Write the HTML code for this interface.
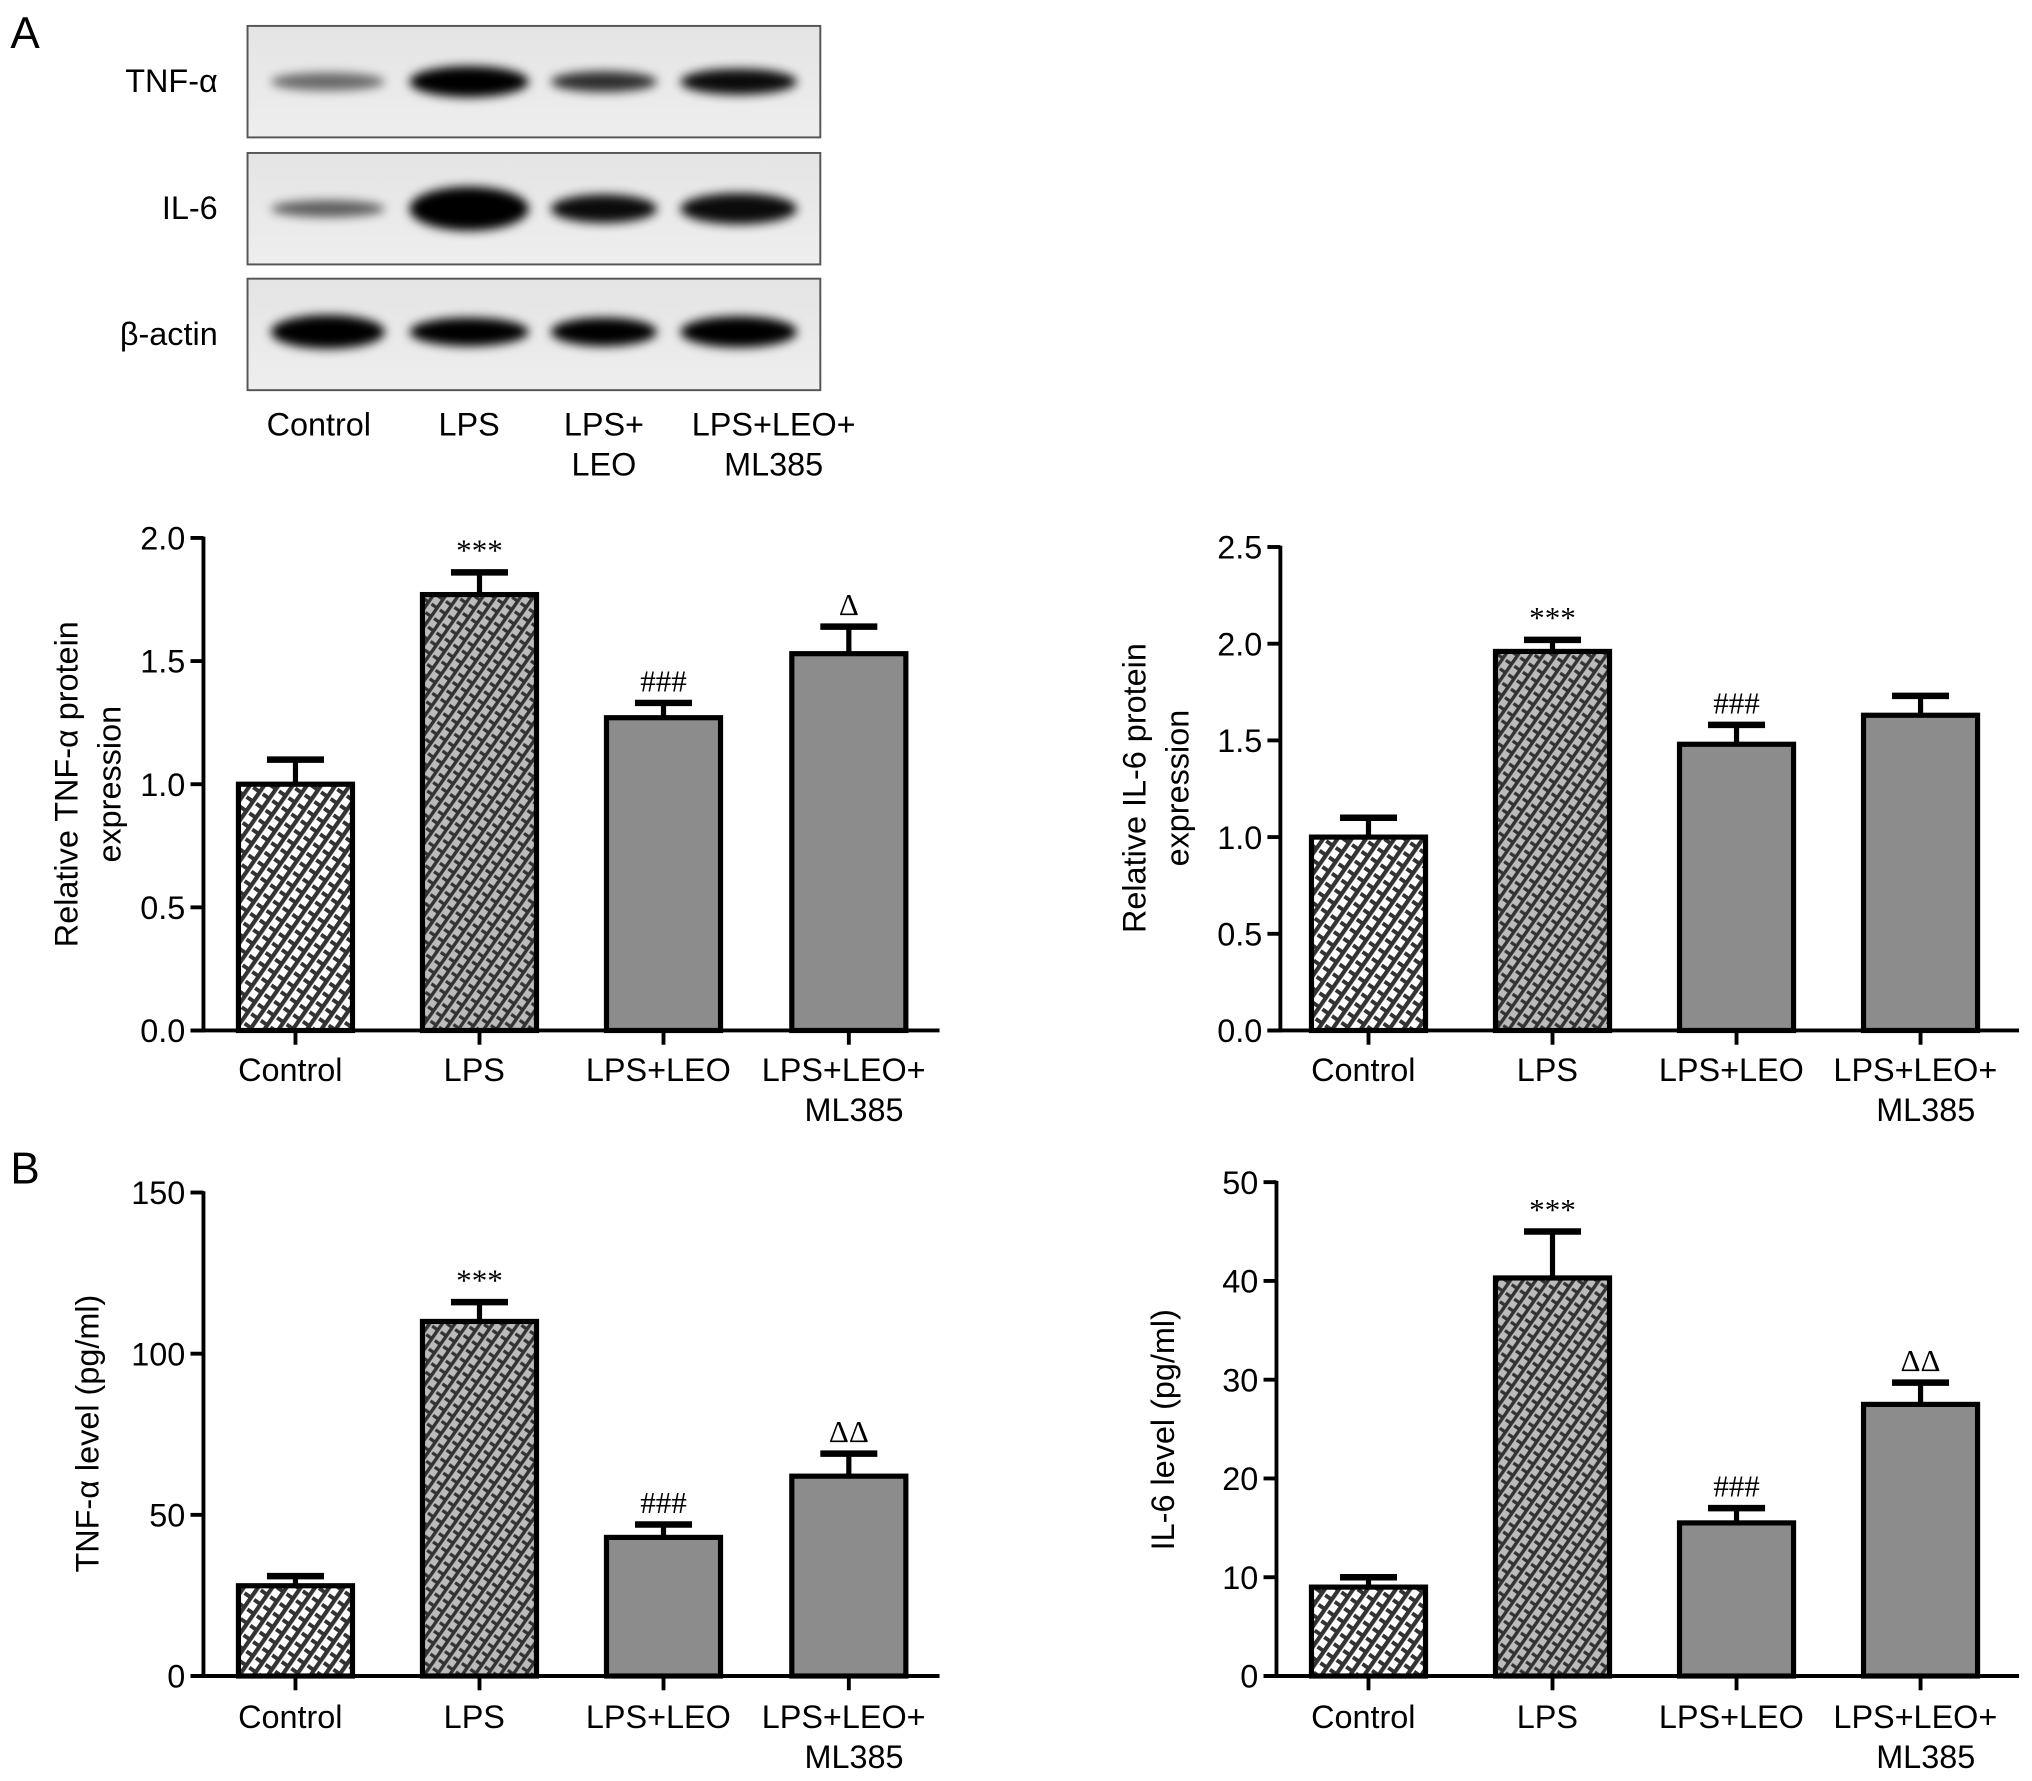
<!DOCTYPE html>
<html><head><meta charset="utf-8"><style>
html,body{margin:0;padding:0;background:#fff;}
svg{display:block;font-family:"Liberation Sans",Arial,sans-serif;}
</style></head><body>
<svg id="fig" width="2032" height="1781" viewBox="0 0 1568 1374" preserveAspectRatio="none" xmlns="http://www.w3.org/2000/svg">
<defs>
<pattern id="patCtrl" patternUnits="userSpaceOnUse" width="9" height="9" patternTransform="rotate(-55)">
<rect width="9" height="9" fill="#fff"/><rect x="0" y="0" width="9" height="3.2" fill="#333"/><rect x="0" y="4.5" width="3" height="4.5" fill="#333"/>
</pattern>
<pattern id="patLps" patternUnits="userSpaceOnUse" width="8" height="8" patternTransform="rotate(-55)">
<rect width="8" height="8" fill="#bbb"/><rect x="0" y="0" width="8" height="2.6" fill="#333"/><rect x="0" y="4" width="2.5" height="4" fill="#333"/>
</pattern>
<filter id="blur" x="-30%" y="-80%" width="160%" height="260%"><feGaussianBlur stdDeviation="4"/></filter>
<linearGradient id="blotbg" x1="0" y1="0" x2="0" y2="1"><stop offset="0" stop-color="#e4e4e4"/><stop offset="1" stop-color="#eeeeee"/></linearGradient>
</defs>
<text x="8" y="37" font-size="34">A</text>
<text x="8" y="913" font-size="34">B</text>
<g id="blot"></g>
<g id="charts"></g>
</svg>
<script>
const NS="http://www.w3.org/2000/svg";
function mk(tag,attrs,parent,txt){const e=document.createElementNS(NS,tag);for(const k in attrs)e.setAttribute(k,attrs[k]);if(txt!==undefined)e.textContent=txt;parent.appendChild(e);return e;}

// ---- Blot ----
const blotRows=["TNF-α","IL-6","β-actin"];
const laneLabels1=["Control","LPS","LPS+","LPS+LEO+"];
const laneLabels2=["","","LEO","ML385"];
const bandTNF=[0.55,1,0.8,0.95];
const bandIL6=[0.6,1,0.95,0.95];
const bandActin=[1,1,1,1];
const bandH_TNF=[10,20,12,16];
const bandH_IL6=[9,30,18,20];
const bandH_Act=[22,18,18,20];
const blot=document.getElementById('blot');
const boxTops=[20,118,215], boxH=86, laneX=[253,362,466,570], laneW=[88,92,82,90];
const labelX=[246,362,466,597];
const bandSets=[[bandTNF,bandH_TNF],[bandIL6,bandH_IL6],[bandActin,bandH_Act]];
boxTops.forEach((t,i)=>{
  const r=mk('rect',{x:191,y:t,width:442,height:boxH,fill:'url(#blotbg)',stroke:'#555','stroke-width':1.5},blot);
  
  
  const lb=mk('text',{x:168,y:t+boxH/2+8,'font-size':25,'text-anchor':'end'},blot,blotRows[i]);
  
  
  laneX.forEach((x,j)=>{
    const b=mk('ellipse',{cx:x,cy:t+boxH/2-(i==2?2:0),rx:laneW[j]/2,ry:bandSets[i][1][j]/2+2,fill:'#000',opacity:bandSets[i][0][j],filter:'url(#blur)'},blot);
    
    
  });
});
laneX.forEach((x,j)=>{
  const a=mk('text',{x:labelX[j],y:336,'font-size':25,'text-anchor':'middle'},blot,laneLabels1[j]);
  
  
  if(laneLabels2[j]){const b=mk('text',{x:labelX[j],y:367,'font-size':25,'text-anchor':'middle'},blot,laneLabels2[j]);
  
  }
});

// ---- Bar charts data ----
const categories=["Control","LPS","LPS+LEO","LPS+LEO+"];
const tnfProtVals=[1.0,1.77,1.27,1.53];
const tnfProtErr=[0.1,0.09,0.06,0.11];
const tnfProtSig=["","***","###","Δ"];
const tnfProtTicks=["0.0","0.5","1.0","1.5","2.0"];
const il6ProtVals=[1.0,1.96,1.48,1.63];
const il6ProtErr=[0.1,0.06,0.1,0.1];
const il6ProtSig=["","***","###",""];
const il6ProtTicks=["0.0","0.5","1.0","1.5","2.0","2.5"];
const tnfLevVals=[28,110,43,62];
const tnfLevErr=[3,6,4,7];
const tnfLevSig=["","***","###","ΔΔ"];
const tnfLevTicks=["0","50","100","150"];
const il6LevVals=[9,40.3,15.5,27.5];
const il6LevErr=[1,4.7,1.5,2.2];
const il6LevSig=["","***","###","ΔΔ"];
const il6LevTicks=["0","10","20","30","40","50"];

const charts=[
 {name:'tnf-protein-chart',ax:157,top:415,bot:795,xEnd:725,centers:[228,370,512,655],vals:tnfProtVals,err:tnfProtErr,sig:tnfProtSig,ticks:tnfProtTicks,title:["Relative TNF-α protein","expression"],tx:[60,93],ty:605,ly:[834,865]},
 {name:'il6-protein-chart',ax:988,top:422,bot:795,xEnd:1558,centers:[1056,1198,1340,1482],vals:il6ProtVals,err:il6ProtErr,sig:il6ProtSig,ticks:il6ProtTicks,title:["Relative IL-6 protein","expression"],tx:[884,917],ty:608,ly:[834,865]},
 {name:'tnf-level-chart',ax:157,top:920,bot:1293,xEnd:725,centers:[228,370,512,655],vals:tnfLevVals,err:tnfLevErr,sig:tnfLevSig,ticks:tnfLevTicks,title:["TNF-α level (pg/ml)"],tx:[76],ty:1106,ly:[1333,1364]},
 {name:'il6-level-chart',ax:985,top:912,bot:1293,xEnd:1558,centers:[1056,1198,1340,1482],vals:il6LevVals,err:il6LevErr,sig:il6LevSig,ticks:il6LevTicks,title:["IL-6 level (pg/ml)"],tx:[906],ty:1103,ly:[1333,1364]}
];
const fills=['url(#patCtrl)','url(#patLps)','#8c8c8c','#8c8c8c'];
const root=document.getElementById('charts');
charts.forEach(c=>{
  const g=mk('g',{},root);
  
  
  const maxV=parseFloat(c.ticks[c.ticks.length-1]);
  const y=v=>c.bot-(v/maxV)*(c.bot-c.top);
  c.vals.forEach((v,i)=>{
    const cx=c.centers[i], w=88;
    const ey=y(v+c.err[i]);
    const el=mk('line',{x1:cx,x2:cx,y1:y(v),y2:ey,stroke:'#000','stroke-width':4},g);
    
    
    const cap=mk('line',{x1:cx-22,x2:cx+22,y1:ey,y2:ey,stroke:'#000','stroke-width':5},g);
    
    
    const b=mk('rect',{x:cx-w/2,y:y(v),width:w,height:c.bot-y(v),fill:fills[i],stroke:'#000','stroke-width':4},g);
    
    
    if(c.sig[i]){const s=mk('text',{x:cx,y:ey-9,'font-size':24,'text-anchor':'middle','font-family':'Liberation Serif, serif'},g,c.sig[i]);
    
    }
    const tk=mk('line',{x1:cx,x2:cx,y1:c.bot,y2:c.bot+11,stroke:'#000','stroke-width':3},g);
    
    
    const l=mk('text',{x:cx-4,y:c.ly[0],'font-size':25,'text-anchor':'middle'},g,categories[i]);
    
    
    if(i===3){const l2=mk('text',{x:cx+4,y:c.ly[1],'font-size':25,'text-anchor':'middle'},g,'ML385');
    
    }
  });
  const ya=mk('line',{x1:c.ax,x2:c.ax,y1:c.top-1,y2:c.bot+1.5,stroke:'#000','stroke-width':3},g);
  
  
  const xa=mk('line',{x1:c.ax-10,x2:c.xEnd,y1:c.bot,y2:c.bot,stroke:'#000','stroke-width':3},g);
  
  
  c.ticks.forEach(t=>{
    const ty=y(parseFloat(t));
    const tk=mk('line',{x1:c.ax-10,x2:c.ax,y1:ty,y2:ty,stroke:'#000','stroke-width':3},g);
    
    
    const tl=mk('text',{x:c.ax-14,y:ty+9,'font-size':25,'text-anchor':'end'},g,t);
    
    
  });
  c.title.forEach((t,k)=>{
    const tt=mk('text',{x:c.tx[k],y:c.ty,'font-size':25,'text-anchor':'middle',transform:`rotate(-90 ${c.tx[k]} ${c.ty})`},g,t);
    
    
  });
});
</script>
</body></html>
